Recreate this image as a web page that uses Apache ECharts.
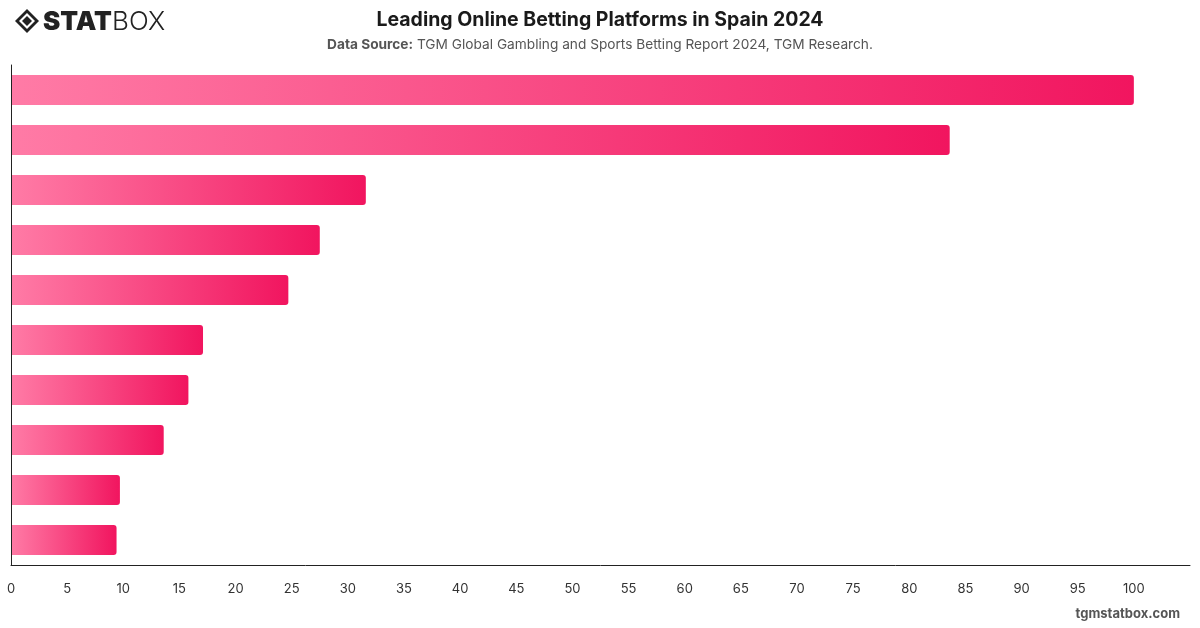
<!DOCTYPE html>
<html>
<head>
    <meta charset="utf-8">
    <title>Leading Online Betting Platforms in Spain 2024</title>
    <script src="https://cdn.jsdelivr.net/npm/echarts@6/dist/echarts.min.js"></script>
    <style>
        html, body { margin: 0; padding: 0; background: #fff; }
    </style>
</head>
<body>
<div id="chart" style="width: 1200px; height: 628px;"></div>
<script>
    // category names are not printed on the reference, so these are placeholders
    var platforms = ['Platform 1', 'Platform 2', 'Platform 3', 'Platform 4', 'Platform 5',
                     'Platform 6', 'Platform 7', 'Platform 8', 'Platform 9', 'Platform 10'];
    var shares = [100, 83.6, 31.6, 27.5, 24.7, 17.1, 15.8, 13.6, 9.7, 9.4];
    var tickLabels = ['0', '5', '10', '15', '20', '25', '30', '35', '40', '45', '50',
                      '55', '60', '65', '70', '75', '80', '85', '90', '95', '100'];

    var myChart = echarts.init(document.getElementById('chart'));

    var font = 'Inter, "Noto Sans", sans-serif';

    var option = {
        backgroundColor: '#fff',
        animation: false,
        title: {
            text: 'Leading Online Betting Platforms in Spain 2024',
            left: 'center',
            top: 5,
            textStyle: { fontFamily: font, fontSize: 19.5, fontWeight: 'bold', color: '#1a1a1a' },
            subtext: '{b|Data Source:} TGM Global Gambling and Sports Betting Report 2024, TGM Research.',
            itemGap: 8,
            subtextStyle: {
                fontFamily: font, fontSize: 13.7, color: '#555',
                rich: { b: { fontFamily: font, fontSize: 13.7, fontWeight: 'bold', color: '#555' } }
            }
        },
        grid: { left: 11, right: 10, top: 65, bottom: 63, containLabel: false },
        xAxis: {
            type: 'value',
            min: 0,
            max: 105,
            interval: 5,
            splitLine: { show: false },
            axisTick: { show: false },
            axisLine: { show: true, lineStyle: { color: '#222', width: 1 } },
            axisLabel: {
                showMaxLabel: false,
                margin: 18,
                color: '#333',
                fontFamily: font,
                fontSize: 13,
                formatter: function (v) {
                    var s = String(v);
                    return tickLabels.indexOf(s) >= 0 ? s : '';
                }
            }
        },
        yAxis: {
            type: 'category',
            inverse: true,
            z: 5,
            data: platforms,
            axisTick: { show: false },
            axisLabel: { show: false },
            axisLine: { show: true, lineStyle: { color: '#222', width: 1 } }
        },
        series: [{
            type: 'bar',
            data: shares,
            barWidth: '60%',
            itemStyle: {
                borderRadius: [0, 3, 3, 0],
                color: new echarts.graphic.LinearGradient(0, 0, 1, 0, [
                    { offset: 0, color: '#ff7ba6' },
                    { offset: 1, color: '#f1155f' }
                ])
            }
        }],
        graphic: [
            // logo mark
            {
                type: 'group', left: 15, top: 9,
                children: [
                    { type: 'polygon', shape: { points: [[12, 0], [24, 12], [12, 24], [0, 12]] },
                      style: { fill: '#222' } },
                    { type: 'polygon', shape: { points: [[12, 4], [20, 12], [12, 20], [4, 12]] },
                      style: { fill: '#fff' } },
                    { type: 'polygon', shape: { points: [[12, 7], [17, 12], [12, 17], [7, 12]] },
                      style: { fill: '#222' } },
                    { type: 'text', x: 28, y: 0,
                      style: { text: 'STAT', fill: '#222', fontFamily: 'Inter, "DejaVu Sans", sans-serif',
                               fontSize: 26, fontWeight: 900 } },
                    { type: 'text', x: 97, y: 0,
                      style: { text: 'BOX', fill: '#222', fontFamily: 'Inter, "DejaVu Sans", sans-serif',
                               fontSize: 26, fontWeight: 300 } }
                ]
            },
            {
                type: 'text', right: 20, top: 608,
                style: { text: 'tgmstatbox.com', fill: '#555', fontFamily: font,
                         fontSize: 13, fontWeight: 'bold' }
            }
        ]
    };

    myChart.setOption(option);
</script>
</body>
</html>
